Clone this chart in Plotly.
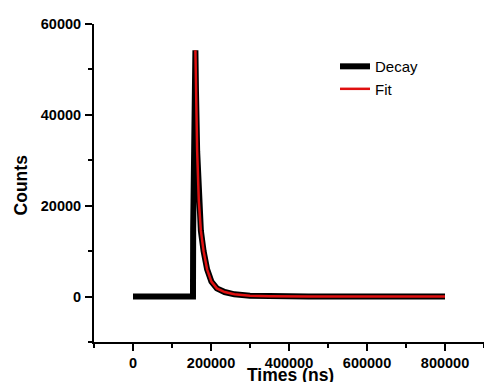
import plotly.graph_objects as go

decay_x = [0, 153800, 154300, 157500, 159500, 160000, 161500, 164500, 168700, 174000,
           181000, 190000, 201000, 215000, 235000, 260000, 300000, 350000, 450000,
           600000, 800000]
decay_y = [0, 0, 15000, 30000, 50000, 54200, 45000, 32000, 21200, 14500,
           10000, 6000, 3300, 1800, 1000, 500, 200, 80, 20,
           0, 0]

# Fit curve
fit_x = [160000, 161500, 164500, 168700, 174000, 181000, 190000, 201000, 215000,
         235000, 260000, 300000, 350000, 450000, 600000, 800000]
fit_y = [54200, 45000, 32000, 21200, 14500, 10000, 6000, 3300, 1800,
         1000, 500, 200, 80, 20, 0, 0]

x_ticks = [0, 200000, 400000, 600000, 800000]
y_ticks = [0, 20000, 40000, 60000]
x_title = "Times (ns)"
y_title = "Counts"

FONT = "Arial, Liberation Sans, sans-serif"

fig = go.Figure()
fig.add_trace(go.Scatter(x=decay_x, y=decay_y, mode="lines", name="Decay",
                         line=dict(color="black", width=6)))
fig.add_trace(go.Scatter(x=fit_x, y=fit_y, mode="lines", name="Fit",
                         line=dict(color="#e01010", width=2.5)))

axis_common = dict(showline=True, linecolor="black", linewidth=2, showgrid=False,
                   zeroline=False, ticks="outside", ticklen=7, tickwidth=2,
                   tickcolor="black", mirror=False, automargin=False,
                   tickfont=dict(family=FONT, size=14.5, color="black", weight="bold"))

title_font = dict(family=FONT, size=17.5, color="black", weight="bold")

fig.update_layout(
    width=484, height=382,
    margin=dict(l=94, r=0, t=24, b=40),
    paper_bgcolor="white", plot_bgcolor="white",
    showlegend=True,
    legend=dict(x=0.618, y=0.918, xanchor="left", yanchor="top",
                bgcolor="rgba(0,0,0,0)", font=dict(family=FONT, size=15, color="black"),
                tracegroupgap=0, itemwidth=30),
    xaxis=dict(range=[-100000, 900000], tickvals=x_ticks, ticktext=[str(v) for v in x_ticks],
               minor=dict(ticks="outside", ticklen=4, tickwidth=2, tickcolor="black",
                          tick0=100000, dtick=200000),
               **axis_common),
    yaxis=dict(range=[-10000, 60000], tickvals=y_ticks, ticktext=[str(v) for v in y_ticks],
               minor=dict(ticks="outside", ticklen=4, tickwidth=2, tickcolor="black",
                          tick0=10000, dtick=20000),
               ticklabelstandoff=1,
               **axis_common),
    annotations=[
        dict(text=x_title, xref="paper", yref="paper", x=0.5026, y=-0.066,
             xanchor="center", yanchor="top", showarrow=False, font=title_font),
        dict(text=y_title, xref="paper", yref="paper", x=-0.1885, y=0.494,
             xanchor="center", yanchor="middle", textangle=-90, showarrow=False,
             font=title_font),
    ],
)

fig.write_html("out.html", config={"displayModeBar": False},
               post_script="document.body.style.margin='0';")
